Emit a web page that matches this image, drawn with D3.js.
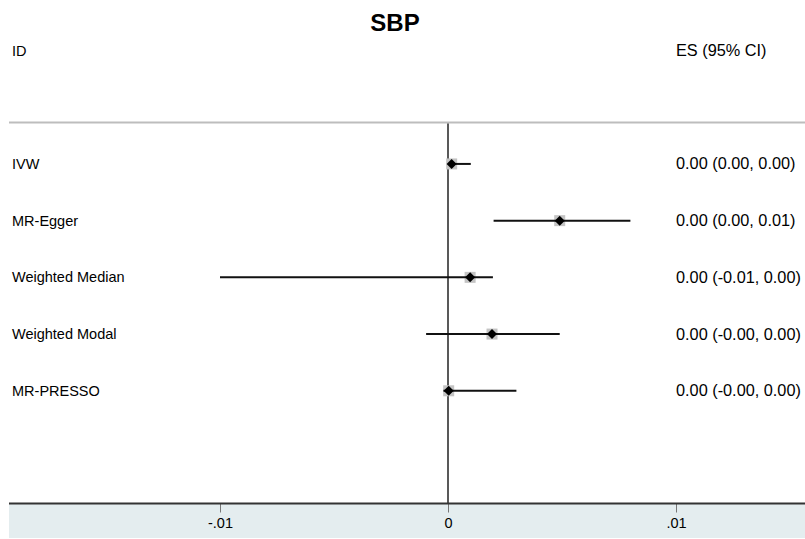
<!DOCTYPE html>
<html>
<head>
<meta charset="utf-8">
<script src="https://cdn.jsdelivr.net/npm/d3@7/dist/d3.min.js"></script>
<style>
  html, body { margin: 0; padding: 0; background: #fff; }
  svg { display: block; font-family: "Liberation Sans", Arial, Helvetica, sans-serif; }
</style>
</head>
<body>
<svg id="chart" width="805" height="539"></svg>
<script>
// Mendelian randomization estimates for SBP
const methods  = ["IVW", "MR-Egger", "Weighted Median", "Weighted Modal", "MR-PRESSO"];
const estimate = [0.00016, 0.0049, 0.00097, 0.00193, 0.00003];
const lower    = [0.00005, 0.0020, -0.0100, -0.00096, -0.0002];
const upper    = [0.0010, 0.0080, 0.00197, 0.0049, 0.0030];
const tickValues = [-0.01, 0, 0.01];
const tickLabels = ["-.01", "0", ".01"];

const W = 805, H = 539;
const svg = d3.select("#chart");

// layout: row point scale covers header, blank, the methods and trailing blank
const rowKeys = ["__head", "__gap"].concat(methods, ["__end1"]);
const y = d3.scalePoint().domain(rowKeys).range([50.5, 447.5]);
const axisY = 503.5;
const topLineY = 122.5;

const x = d3.scaleLinear().domain([-0.01, 0.01]).range([220, 676]);

const fmt = v => (v < 0 ? "-" : "") + Math.abs(v).toFixed(2);
const FS = 14.5;     // study labels and ticks
const FS_ES = 16.3;  // estimate column

// axis band
svg.append("rect")
  .attr("x", 9).attr("y", axisY).attr("width", W - 9).attr("height", H - axisY - 1)
  .attr("fill", "#e4edef");

// title
svg.append("text")
  .attr("x", 395).attr("y", 31)
  .attr("text-anchor", "middle")
  .attr("font-weight", "bold").attr("font-size", 24)
  .text("SBP");

// column headers
svg.append("text").attr("x", 12).attr("y", y("__head") + 5.5)
  .attr("font-size", FS).text("ID");
svg.append("text").attr("x", 676).attr("y", y("__head") + 5.5)
  .attr("font-size", FS_ES).text("ES (95% CI)");

// header rule
svg.append("line")
  .attr("x1", 9).attr("x2", W).attr("y1", topLineY).attr("y2", topLineY)
  .attr("stroke", "#bdbdbd").attr("stroke-width", 2);

// null line at zero
svg.append("line")
  .attr("x1", x(0)).attr("x2", x(0)).attr("y1", topLineY + 1).attr("y2", axisY)
  .attr("stroke", "#222").attr("stroke-width", 1.5);

// x axis
const axis = d3.axisBottom(x)
  .tickValues(tickValues)
  .tickFormat((d, i) => tickLabels[i])
  .tickSize(9).tickPadding(5);
const gAxis = svg.append("g").attr("transform", `translate(0,${axisY})`).call(axis);
gAxis.select(".domain").remove();
gAxis.selectAll(".tick line").attr("stroke", "#777").attr("stroke-width", 1);
gAxis.selectAll(".tick text")
  .attr("font-size", FS).attr("fill", "#000")
  .attr("font-family", "'Liberation Sans', Arial, sans-serif");
svg.append("line")
  .attr("x1", 9).attr("x2", W).attr("y1", axisY).attr("y2", axisY)
  .attr("stroke", "#333").attr("stroke-width", 2);

// rows
const rows = methods.map((m, i) => ({ m, est: estimate[i], lo: lower[i], hi: upper[i] }));
const g = svg.append("g").selectAll("g").data(rows).join("g")
  .attr("transform", d => `translate(0,${y(d.m)})`);

g.append("text").attr("x", 12).attr("y", 5)
  .attr("font-size", FS).attr("fill", "#000").text(d => d.m);

g.append("text").attr("x", 676).attr("y", 5.5)
  .attr("font-size", FS_ES).attr("fill", "#000")
  .text(d => `${fmt(d.est)} (${fmt(d.lo)}, ${fmt(d.hi)})`);

// weight box
g.append("rect")
  .attr("x", d => x(d.est) - 5.5).attr("y", -5.5)
  .attr("width", 11).attr("height", 11)
  .attr("fill", "#c4c4c4");

// confidence interval
g.append("line")
  .attr("x1", d => x(d.lo)).attr("x2", d => x(d.hi))
  .attr("y1", 0).attr("y2", 0)
  .attr("stroke", "#111").attr("stroke-width", 2);

// point estimate
g.append("path")
  .attr("transform", d => `translate(${x(d.est)},0)`)
  .attr("d", "M0,-5L5,0L0,5L-5,0Z")
  .attr("fill", "#000");
</script>
</body>
</html>
